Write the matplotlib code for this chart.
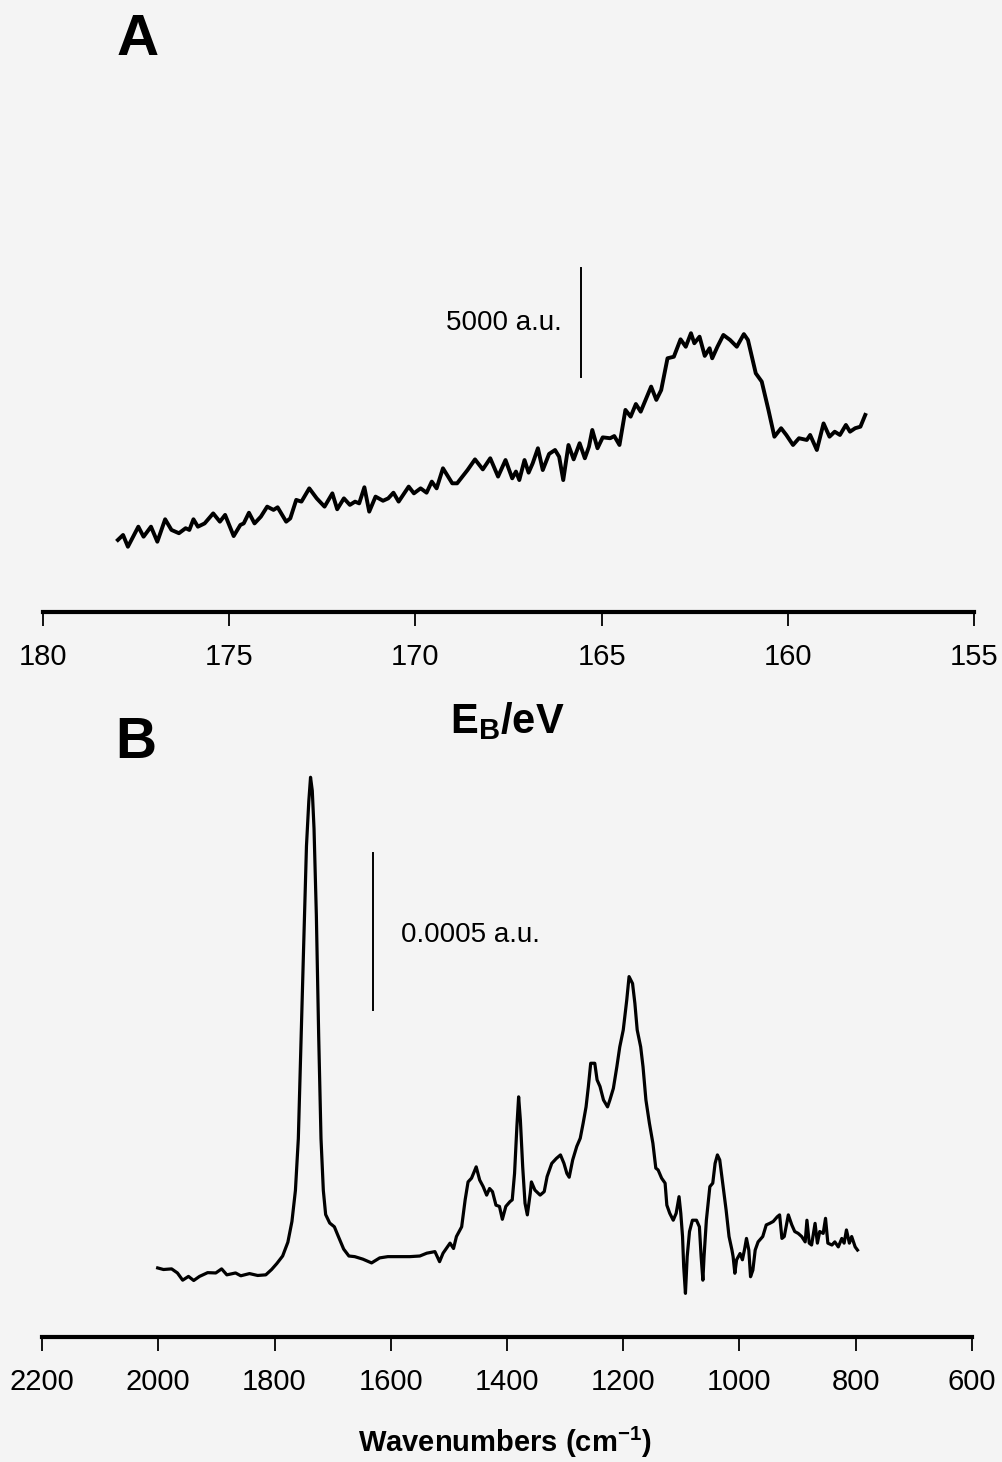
import matplotlib
matplotlib.use("Agg")
import matplotlib.pyplot as plt

plt.rcParams['font.family'] = ['Liberation Sans', 'DejaVu Sans']

# --- Panel A: XPS S 2p region (binding energy / eV, counts) ---
energy_ev = [
    177.99, 177.85, 177.72, 177.58, 177.44, 177.30, 177.10, 176.93, 176.72, 176.55,
    176.35, 176.17, 176.07, 175.96, 175.84, 175.66, 175.43, 175.25, 175.11, 174.88,
    174.70, 174.61, 174.47, 174.32, 174.15, 173.98, 173.81, 173.70, 173.47, 173.36,
    173.20, 173.06, 172.85, 172.65, 172.44, 172.23, 172.10, 171.92, 171.76, 171.62,
    171.51, 171.37, 171.24, 171.07, 170.87, 170.73, 170.59, 170.45, 170.18, 170.04,
    169.86, 169.70, 169.56, 169.43, 169.26, 169.01, 168.88, 168.60, 168.40, 168.19,
    167.99, 167.78, 167.58, 167.40, 167.30, 167.21, 167.07, 166.96, 166.85, 166.71,
    166.58, 166.41, 166.25, 166.14, 166.03, 165.89, 165.75, 165.59, 165.45, 165.34,
    165.25, 165.11, 164.97, 164.77, 164.66, 164.52, 164.36, 164.22, 164.08, 163.95,
    163.67, 163.53, 163.40, 163.23, 163.06, 162.88, 162.74, 162.60, 162.51, 162.37,
    162.23, 162.10, 162.03, 161.89, 161.73, 161.55, 161.37, 161.18, 161.07, 160.86,
    160.70, 160.52, 160.36, 160.18, 160.04, 159.86, 159.70, 159.49, 159.40, 159.22,
    159.04, 158.88, 158.74, 158.60, 158.44, 158.33, 158.19, 158.05, 157.92,
]
counts = [
    3520, 3750, 3210, 3670, 4130, 3670, 4130, 3440, 4470, 3980,
    3830, 4060, 3980, 4470, 4130, 4280, 4740, 4360, 4670, 3700,
    4210, 4280, 4770, 4280, 4590, 5050, 4900, 5020, 4360, 4510,
    5360, 5280, 5890, 5430, 5050, 5660, 4930, 5430, 5130, 5280,
    5200, 5940, 4820, 5510, 5320, 5430, 5690, 5280, 5970, 5660,
    5890, 5690, 6200, 5890, 6810, 6120, 6120, 6730, 7220, 6760,
    7270, 6430, 7190, 6350, 6660, 6270, 7190, 6610, 7040, 7730,
    6730, 7470, 7650, 7340, 6270, 7880, 7220, 7960, 7270, 7800,
    8570, 7730, 8230, 8190, 8290, 7880, 9490, 9180, 9760, 9410,
    10560, 9950, 10400, 11860, 11930, 12730, 12390, 13010, 12550, 12850,
    11970, 12320, 11860, 12390, 12930, 12700, 12390, 12970, 12700, 11170,
    10790, 9490, 8260, 8650, 8340, 7880, 8190, 8110, 8340, 7650,
    8870, 8260, 8490, 8340, 8800, 8490, 8650, 8720, 9260,
]

# --- Panel B: IR spectrum (wavenumber / cm^-1, absorbance in 1e-4 a.u.) ---
wavenumber = [
    2001, 1991, 1977, 1967, 1958, 1948, 1939, 1929, 1915, 1901,
    1891, 1882, 1867, 1858, 1843, 1829, 1815, 1805, 1796, 1786,
    1777, 1770, 1764, 1759, 1755, 1750, 1745, 1741, 1738, 1735,
    1732, 1728, 1724, 1720, 1716, 1712, 1705, 1697, 1691, 1681,
    1672, 1662, 1648, 1633, 1619, 1605,
    1584, 1567, 1550, 1538, 1524, 1516, 1510, 1498, 1492, 1487,
    1478, 1472, 1467, 1461, 1453, 1447, 1441, 1435, 1430, 1425,
    1419, 1413, 1408, 1402, 1395, 1391, 1387, 1383, 1380, 1377,
    1373, 1369, 1365, 1360, 1358, 1352, 1343, 1336, 1331, 1323,
    1315, 1308, 1302, 1297, 1293, 1287, 1280, 1274, 1269, 1264,
    1260, 1256, 1249, 1245, 1240, 1234, 1227, 1223, 1217, 1211,
    1206, 1200, 1194, 1190, 1184, 1180, 1176, 1170, 1166, 1161,
    1155, 1149, 1144,
    1140, 1134, 1128, 1125, 1120, 1114, 1109, 1104, 1101, 1098,
    1096, 1093, 1090, 1086, 1081, 1074, 1069, 1066, 1063, 1061,
    1057, 1051, 1046, 1042, 1038, 1034, 1029, 1023, 1018, 1013,
    1011, 1008, 1005, 999, 995, 991, 988, 984, 981, 977,
    973, 968, 960, 954, 948, 942, 935, 931, 927, 923,
    916, 910, 905, 899, 893, 887, 884, 880, 876, 870,
    866, 862, 856, 852, 848, 841, 836, 830, 824, 820,
    816, 811, 807, 801, 797,
]
absorb_1e4 = [
    2.20, 2.15, 2.17, 2.04, 1.81, 1.93, 1.80, 1.93, 2.05, 2.04,
    2.17, 1.98, 2.04, 1.95, 2.02, 1.96, 1.98, 2.15, 2.34, 2.58,
    3.02, 3.68, 4.67, 6.32, 9.05, 12.35, 15.64, 17.06, 17.83, 17.40,
    16.19, 13.44, 9.60, 6.32, 4.67, 3.90, 3.63, 3.51, 3.24, 2.80,
    2.58, 2.56, 2.48, 2.36, 2.52, 2.56,
    2.56, 2.56, 2.58, 2.67, 2.72, 2.40, 2.67, 2.99, 2.82, 3.20,
    3.51, 4.37, 4.94, 5.06, 5.42, 5.00, 4.79, 4.52, 4.73, 4.63,
    4.20, 4.16, 3.75, 4.16, 4.31, 4.37, 5.21, 6.70, 7.65, 6.91,
    5.42, 4.26, 3.89, 4.58, 4.94, 4.68, 4.52, 4.63, 5.11, 5.53,
    5.69, 5.80, 5.53, 5.21, 5.09, 5.64, 6.07, 6.33, 6.81, 7.33,
    7.98, 8.72, 8.72, 8.19, 7.98, 7.55, 7.33, 7.55, 7.92, 8.61,
    9.24, 9.78, 10.73, 11.48, 11.26, 10.63, 9.78, 9.24, 8.61, 7.55,
    6.81, 6.17, 5.38,
    5.32, 5.06, 4.90, 4.20, 3.94, 3.72, 3.94, 4.47, 3.94, 3.20,
    2.24, 1.39, 2.56, 3.36, 3.72, 3.72, 3.51, 2.56, 1.81, 2.56,
    3.72, 4.79, 4.90, 5.53, 5.80, 5.64, 4.90, 4.04, 3.20, 2.77,
    2.56, 2.03, 2.46, 2.66, 2.46, 2.82, 3.14, 2.77, 1.92, 2.13,
    2.77, 3.03, 3.20, 3.57, 3.62, 3.68, 3.83, 3.89, 3.14, 3.20,
    3.89, 3.57, 3.36, 3.30, 3.20, 3.03, 3.72, 2.99, 2.93, 3.62,
    2.99, 3.36, 3.30, 3.78, 2.99, 2.93, 3.03, 2.87, 3.14, 2.99,
    3.41, 2.99, 3.20, 2.87, 2.77,
]

ticks_a = [180, 175, 170, 165, 160, 155]
ticks_b = [2200, 2000, 1800, 1600, 1400, 1200, 1000, 800, 600]

W, H = 1003, 1462
BG = '#f4f4f4'

fig = plt.figure(figsize=(W / 100, H / 100), dpi=100, facecolor=BG)


def style_axis(ax, ticks):
    ax.set_facecolor(BG)
    for s in ['left', 'right', 'top']:
        ax.spines[s].set_visible(False)
    ax.spines['bottom'].set_linewidth(3.0)
    ax.set_yticks([])
    ax.set_xticks(ticks)
    ax.set_xticklabels([str(t) for t in ticks])
    ax.tick_params(axis='x', direction='out', length=10, width=1.3,
                   pad=12, labelsize=21)


# Panel A
axA = fig.add_axes([43 / W, 1 - 612 / H, 931 / W, 512 / H])
axA.plot(energy_ev, counts, color='black', lw=2.8, solid_joinstyle='round')
axA.set_xlim(180, 155)
axA.set_ylim(214, 23715)
style_axis(axA, ticks_a)
axA.plot([165.55, 165.55], [11000, 16000], color='black', lw=1.4)
axA.text(166.06, 13500, '5000 a.u.', ha='right', va='center', fontsize=20)

# Panel B
axB = fig.add_axes([42 / W, 1 - 1337 / H, 930 / W, 577 / H])
absorb = [a * 1e-4 for a in absorb_1e4]
axB.plot(wavenumber, absorb, color='black', lw=2.3, solid_joinstyle='round')
axB.set_xlim(2200, 600)
axB.set_ylim(0, 18.38e-4)
style_axis(axB, ticks_b)
axB.plot([1630, 1630], [10.41e-4, 15.41e-4], color='black', lw=1.4)
axB.text(1582, 12.8e-4, '0.0005 a.u.', ha='left', va='center', fontsize=20)

# labels
fig.text(117 / W, 1 - 55 / H, 'A', fontsize=42, fontweight='bold',
         ha='left', va='baseline')
fig.text(115 / W, 1 - 758 / H, 'B', fontsize=41, fontweight='bold',
         ha='left', va='baseline')
fig.text(507 / W, 1 - 733 / H, r'E$_\mathregular{B}$/eV', fontsize=30,
         fontweight='bold', ha='center', va='baseline')
fig.text(505 / W, 1 - 1452 / H, 'Wavenumbers (cm$^{\\mathregular{-1}}$)',
         fontsize=21, fontweight='bold', ha='center', va='baseline')

fig.savefig('out.png', dpi=100, facecolor=BG)
